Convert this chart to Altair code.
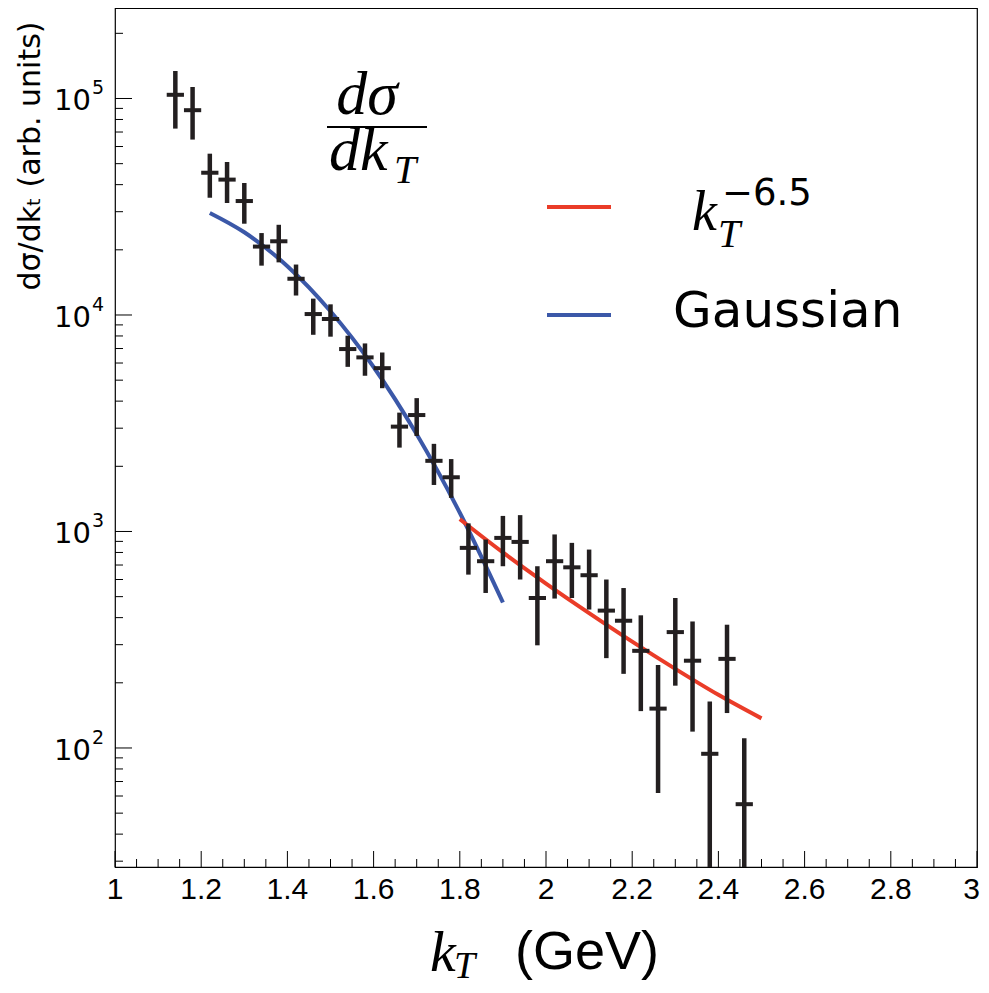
import altair as alt
import pandas as pd

# ---------------- data ----------------
kt = [1.14, 1.18, 1.22, 1.26, 1.30, 1.34, 1.38, 1.42, 1.46, 1.50, 1.54, 1.58,
      1.62, 1.66, 1.70, 1.74, 1.78, 1.82, 1.86, 1.90, 1.94, 1.98, 2.02, 2.06,
      2.10, 2.14, 2.18, 2.22, 2.26, 2.30, 2.34, 2.38, 2.42, 2.46]
val = [104000, 88300, 45400, 42200, 33600, 20700, 21900, 14700, 10100, 9580,
       6960, 6370, 5680, 3050, 3450, 2120, 1780, 840, 729, 934, 895, 493,
       729, 683, 628, 431, 387, 281, 152, 343, 253, 94, 258, 55]
err_lo = [72600, 64600, 34800, 32900, 26400, 16900, 17500, 12300, 8100, 7940,
          5760, 5240, 4590, 2440, 2760, 1640, 1430, 632, 520, 691, 600, 298,
          490, 493, 436, 260, 220, 148, 62, 194, 119, 10, 145, 10]
err_hi = [134000, 113000, 55600, 50900, 40700, 23900, 26100, 17100, 11900, 11200,
          8020, 7390, 6710, 3540, 4130, 2540, 2160, 1090, 918, 1180, 1190, 691,
          969, 886, 825, 600, 548, 410, 242, 493, 384, 164, 371, 111]
x_half = 0.02

gauss_kt = [1.22, 1.30, 1.40, 1.50, 1.60, 1.70, 1.80, 1.90]
gauss_val = [29600, 24100, 16800, 10400, 5750, 2810, 1220, 470]

pow_kt = [1.80, 1.90, 2.00, 2.10, 2.20, 2.30, 2.40, 2.50]
pow_val = [1140, 800, 575, 420, 310, 232, 176, 137]

x_major = [1.0, 1.2, 1.4, 1.6, 1.8, 2.0, 2.2, 2.4, 2.6, 2.8, 3.0]
x_labels = ["1", "1.2", "1.4", "1.6", "1.8", "2", "2.2", "2.4", "2.6", "2.8", "3"]
x_minor = [round(1.0 + 0.05 * i, 2) for i in range(1, 40) if i % 4 != 0]
y_major = [100, 1000, 10000, 100000]
y_exp = ["2", "3", "4", "5"]
y_minor = [30, 40, 50, 60, 70, 80, 90,
           200, 300, 400, 500, 600, 700, 800, 900,
           2000, 3000, 4000, 5000, 6000, 7000, 8000, 9000,
           20000, 30000, 40000, 50000, 60000, 70000, 80000, 90000, 200000]

# ---------------- layout ----------------
W, H = 862, 859
BLACK = "#231f20"
RED = "#ea3c28"
BLUE = "#3b58a8"

xs = alt.Scale(domain=[1, 3], nice=False, zero=False)
ys = alt.Scale(type="log", domain=[28.2, 261800], nice=False)

pts = pd.DataFrame({"kt": kt, "v": val, "lo": err_lo, "hi": err_hi,
                    "xl": [k - x_half for k in kt], "xr": [k + x_half for k in kt]})

vbars = alt.Chart(pts).mark_rule(color=BLACK, strokeWidth=4.5, clip=True).encode(
    x=alt.X("kt:Q", scale=xs, axis=None),
    y=alt.Y("lo:Q", scale=ys, axis=None),
    y2="hi:Q",
)
hbars = alt.Chart(pts).mark_rule(color=BLACK, strokeWidth=4, clip=True).encode(
    x=alt.X("xl:Q", scale=xs, axis=None),
    x2="xr:Q",
    y=alt.Y("v:Q", scale=ys, axis=None),
)

gauss = alt.Chart(pd.DataFrame({"kt": gauss_kt, "v": gauss_val})).mark_line(
    color=BLUE, strokeWidth=4, interpolate="monotone", clip=True).encode(
    x=alt.X("kt:Q", scale=xs, axis=None),
    y=alt.Y("v:Q", scale=ys, axis=None),
)
power = alt.Chart(pd.DataFrame({"kt": pow_kt, "v": pow_val})).mark_line(
    color=RED, strokeWidth=4, interpolate="monotone", clip=True).encode(
    x=alt.X("kt:Q", scale=xs, axis=None),
    y=alt.Y("v:Q", scale=ys, axis=None),
)

# ticks (drawn inward, ROOT style)
xmaj_df = pd.DataFrame({"t": x_major, "lab": x_labels})
xmaj = alt.Chart(xmaj_df).mark_rule(color="black", strokeWidth=1).encode(
    x=alt.X("t:Q", scale=xs, axis=None),
    y=alt.value(H), y2=alt.value(H - 16),
)
xlab = alt.Chart(xmaj_df.iloc[:-1]).mark_text(
    font="Liberation Sans Narrow, Liberation Sans", fontSize=30, align="center",
    baseline="middle", color="black").encode(
    x=alt.X("t:Q", scale=xs, axis=None), y=alt.value(H + 23), text="lab:N")
xlab_last = alt.Chart(xmaj_df.iloc[-1:]).mark_text(
    font="Liberation Sans Narrow, Liberation Sans", fontSize=30, align="right", dx=3,
    baseline="middle", color="black").encode(
    x=alt.X("t:Q", scale=xs, axis=None), y=alt.value(H + 23), text="lab:N")
xmin = alt.Chart(pd.DataFrame({"t": x_minor})).mark_rule(color="black", strokeWidth=1).encode(
    x=alt.X("t:Q", scale=xs, axis=None),
    y=alt.value(H), y2=alt.value(H - 8),
)
ymaj = alt.Chart(pd.DataFrame({"t": y_major})).mark_rule(color="black", strokeWidth=1).encode(
    y=alt.Y("t:Q", scale=ys, axis=None),
    x=alt.value(0), x2=alt.value(17),
)
ymin = alt.Chart(pd.DataFrame({"t": y_minor})).mark_rule(color="black", strokeWidth=1).encode(
    y=alt.Y("t:Q", scale=ys, axis=None),
    x=alt.value(0), x2=alt.value(8),
)

ylab_df = pd.DataFrame({"t": y_major, "e": y_exp, "b": ["10"] * 4})
ylab_base = alt.Chart(ylab_df).mark_text(
    font="DejaVu Sans", fontSize=29, align="right", baseline="middle", dy=3, color="black").encode(
    y=alt.Y("t:Q", scale=ys, axis=None), x=alt.value(-24), text="b:N")
ylab_exp = alt.Chart(ylab_df).mark_text(
    font="DejaVu Sans", fontSize=19, align="left", baseline="middle", dy=-10, color="black").encode(
    y=alt.Y("t:Q", scale=ys, axis=None), x=alt.value(-23), text="e:N")

one = pd.DataFrame({"a": [0]})


def label(text, x, y, **kw):
    return alt.Chart(one).mark_text(text=text, color="black", **kw).encode(
        x=alt.value(x), y=alt.value(y))


ytitle = label("dσ/dkₜ (arb. units)", -84, 148, font="DejaVu Sans", fontSize=30,
               angle=270, align="center", baseline="middle")

# big fraction d sigma / d k_T
num = label("dσ", 252, 106, font="Liberation Serif", fontStyle="italic", fontSize=62,
            align="center", baseline="alphabetic")
bar = alt.Chart(one).mark_rule(color="black", strokeWidth=2).encode(
    x=alt.value(212), x2=alt.value(312), y=alt.value(119))
den = label("dk", 214, 162, font="Liberation Serif", fontStyle="italic", fontSize=62,
            align="left", baseline="alphabetic")
den_sub = label("T", 279, 175, font="Liberation Serif", fontStyle="italic", fontSize=40,
                align="left", baseline="alphabetic")

# legend
leg_red = alt.Chart(one).mark_rule(color=RED, strokeWidth=4).encode(
    x=alt.value(432), x2=alt.value(496), y=alt.value(199))
leg_blue = alt.Chart(one).mark_rule(color=BLUE, strokeWidth=4).encode(
    x=alt.value(432), x2=alt.value(496), y=alt.value(307))
leg_k = label("k", 577, 222, font="Liberation Serif", fontStyle="italic", fontSize=56,
              align="left", baseline="alphabetic")
leg_T = label("T", 603, 239, font="Liberation Serif", fontStyle="italic", fontSize=40,
              align="left", baseline="alphabetic")
leg_exp = label("−6.5", 607, 197, font="DejaVu Sans", fontSize=37,
                align="left", baseline="alphabetic")
leg_g = label("Gaussian", 558, 319, font="DejaVu Sans", fontSize=50,
              align="left", baseline="alphabetic")

# x title
xt_k = label("k", 315, 963, font="Liberation Serif", fontStyle="italic", fontSize=58,
             align="left", baseline="alphabetic")
xt_T = label("T", 339, 970, font="Liberation Serif", fontStyle="italic", fontSize=38,
             align="left", baseline="alphabetic")
xt_gev = label("(GeV)", 400, 961, font="Liberation Sans", fontSize=54,
               align="left", baseline="alphabetic")

chart = alt.layer(
    xmaj, xmin, ymaj, ymin, xlab, xlab_last,
    gauss, power, vbars, hbars,
    ylab_base, ylab_exp, ytitle,
    num, bar, den, den_sub,
    leg_red, leg_blue, leg_k, leg_T, leg_exp, leg_g,
    xt_k, xt_T, xt_gev,
).properties(
    width=W, height=H,
    autosize=alt.AutoSizeParams(type="none"),
    padding={"left": 107, "top": 0, "right": 4, "bottom": 118},
).configure_view(stroke="black", strokeWidth=1.2)

chart.save("out.html", embed_options={"renderer": "svg", "actions": False})
